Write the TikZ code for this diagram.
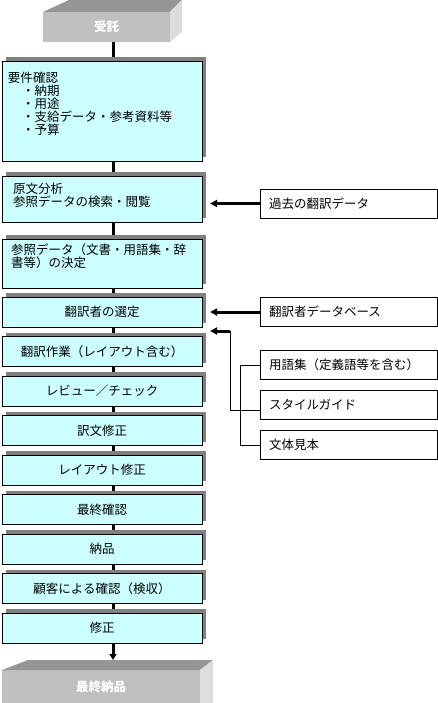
\documentclass[tikz,border=0pt]{standalone}
\usepackage{fontspec}
\newfontfamily\jpfont{Noto Sans CJK JP}
\usetikzlibrary{positioning,shadows,arrows.meta,backgrounds}
\definecolor{boxcyan}{HTML}{CCFFFF}
\definecolor{shadowgray}{HTML}{808080}
\definecolor{cubefront}{HTML}{C0C0C0}
\definecolor{cubetop}{HTML}{969696}
\definecolor{cubeside}{HTML}{DDDDDD}

\begin{document}
\begin{tikzpicture}
[x=1pt,y=-1pt,
 every node/.style={font=\jpfont\fontsize{12.5}{13}\selectfont,inner sep=0pt,outer sep=0pt},
 proc/.style={draw=black,line width=0.8pt,fill=boxcyan,minimum width=200pt,minimum height=30pt,
              drop shadow={shadow xshift=4pt,shadow yshift=4pt,fill=shadowgray,opacity=1}},
 src/.style={draw=black,line width=0.8pt,fill=white,minimum height=29pt,text width=159pt,inner xsep=9pt,align=left},
 cube/.style={fill=cubefront,text=white,font=\jpfont\bfseries\fontsize{12.5}{13}\selectfont},
 flow/.style={line width=3pt},
 feed/.style={line width=3pt,-{Triangle[length=7pt,width=7pt]}},
 link/.style={line width=1pt}]
\useasboundingbox (0,0) rectangle (438,703);
\node[cube,minimum width=127pt,minimum height=30pt] (juta) at (106.5,27) {受託};
\fill[cubetop]  (juta.north west) -- ++(26,-12) -- ([shift={(12,-12)}]juta.north east) -- (juta.north east) -- cycle;
\fill[cubeside] (juta.north east) -- ++(12,-12) -- ([shift={(12,-10)}]juta.south east) -- (juta.south east) -- cycle;
\node[proc,minimum height=100pt,anchor=north west] (yoken) at (2,61)
  {\parbox[c][78pt][t]{188pt}{要件確認\\
   \hspace*{14pt}・納期\\
   \hspace*{14pt}・用途\\
   \hspace*{14pt}・支給データ・参考資料等\\
   \hspace*{14pt}・予算}};
\node[proc,minimum height=46pt,below=15pt of yoken] (genbun)
  {\parbox[c][32pt][t]{178pt}{原文分析\\参照データの検索・閲覧}};
\node[proc,minimum height=49pt,below=17pt of genbun] (sansho)
  {\parbox[c][39pt][t]{182pt}{参照データ（文書・用語集・辞\\書等）の決定}};
\node[proc,below=9pt of sansho]    (sentei)  {翻訳者の選定};
\node[proc,below=9.5pt of sentei]  (honyaku) {翻訳作業（レイアウト含む）};
\node[proc,below=9.5pt of honyaku] (review)  {レビュー／チェック};
\node[proc,below=9.5pt of review]  (yakubun) {訳文修正};
\node[proc,below=9.5pt of yakubun] (layout)  {レイアウト修正};
\node[proc,below=9.5pt of layout]  (kakunin) {最終確認};
\node[proc,below=9.5pt of kakunin] (nohin)   {納品};
\node[proc,below=9.5pt of nohin]   (kokyaku) {顧客による確認（検収）};
\node[proc,below=9.5pt of kokyaku] (shusei)  {修正};
\node[cube,minimum width=198pt,minimum height=33pt,anchor=north west] (saishu) at (2,670) {最終納品};
\fill[cubetop]  (saishu.north west) -- ++(26,-10) -- ([shift={(13,-10)}]saishu.north east) -- (saishu.north east) -- cycle;
\fill[cubeside] (saishu.north east) -- ++(13,-10) -- ([xshift=13pt]saishu.south east) -- (saishu.south east) -- cycle;
\coordinate (saishutop) at ([yshift=10pt]saishu.north);
% reference data
\node[src,anchor=north west] (kako) at (260,189) {過去の翻訳データ};
\node[src,right=58pt of sentei] (db)     {翻訳者データベース};
\node[src,below=24pt of db]     (yogo)   {用語集（定義語等を含む）};
\node[src,below=11pt of yogo]   (styleg) {スタイルガイド};
\node[src,below=11pt of styleg] (buntai) {文体見本};
\coordinate (spine) at (113,0);
\coordinate (tipx)  at (210,0);
\coordinate (bend)  at (230,331);
\begin{scope}[on background layer]
\draw[flow] (juta.south -| spine)    -- (yoken.north -| spine);
\draw[flow] (yoken.south -| spine)   -- (genbun.north -| spine);
\draw[flow] (genbun.south -| spine)  -- (sansho.north -| spine);
\draw[flow] (sansho.south -| spine)  -- (sentei.north -| spine);
\draw[flow] (sentei.south -| spine)  -- (honyaku.north -| spine);
\draw[flow] (honyaku.south -| spine) -- (review.north -| spine);
\draw[flow] (review.south -| spine)  -- (yakubun.north -| spine);
\draw[flow] (yakubun.south -| spine) -- (layout.north -| spine);
\draw[flow] (layout.south -| spine)  -- (kakunin.north -| spine);
\draw[flow] (kakunin.south -| spine) -- (nohin.north -| spine);
\draw[flow] (nohin.south -| spine)   -- (kokyaku.north -| spine);
\draw[flow] (kokyaku.south -| spine) -- (shusei.north -| spine);
\end{scope}
\draw[flow,-{Triangle[length=6pt,width=7pt]}] (shusei.south -| spine) -- (saishutop -| spine);
\draw[feed] (kako.west) -- (kako.west -| tipx);
\draw[feed] (db.west)   -- (db.west -| tipx);
\draw[link] ([yshift=-5pt]styleg.west) -| (bend);
\draw[feed] (bend) -- (bend -| tipx);
\draw[link] (yogo.west) -- ++(-20,0) |- (buntai.west);
\end{tikzpicture}
\end{document}
